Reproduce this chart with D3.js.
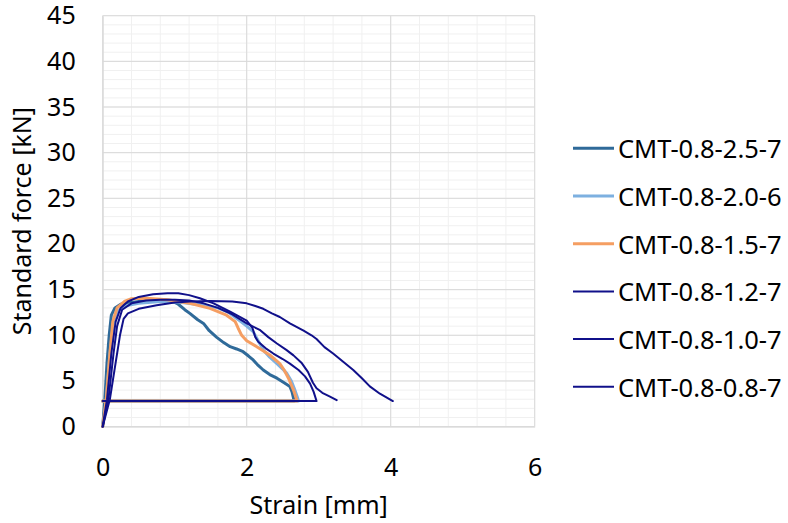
<!DOCTYPE html>
<html>
<head>
<meta charset="utf-8">
<script src="https://cdn.jsdelivr.net/npm/d3@7"></script>
<style>
  html, body { margin: 0; padding: 0; background: #fff; }
  svg text { font-family: "Noto Sans", "Open Sans", sans-serif; fill: #000; }
</style>
</head>
<body>
<svg id="chart" width="788" height="523"></svg>
<script>
// ---- data ----
const seriesNames = ["CMT-0.8-2.5-7", "CMT-0.8-2.0-6", "CMT-0.8-1.5-7", "CMT-0.8-1.2-7", "CMT-0.8-1.0-7", "CMT-0.8-0.8-7"];
const seriesColors = ["#2f6a99", "#7db0e0", "#f59e62", "#10108a", "#10108a", "#10108a"];
const seriesWidths = [3, 3, 3, 2, 2, 2];

const strain_2_5 = [0,0.03,0.06,0.09,0.12,0.17,0.25,0.4,0.6,0.8,0.95,1.05,1.14,1.21,1.32,1.40,1.48,1.58,1.68,1.77,1.86,1.95,2.03,2.09,2.16,2.23,2.32,2.42,2.52,2.60,2.63,2.66,0];
const force_2_5  = [0,3,7,10,12.2,13.0,13.4,13.6,13.8,13.9,13.8,13.4,12.8,12.4,11.7,11.3,10.5,9.8,9.2,8.75,8.5,8.2,7.7,7.3,6.7,6.2,5.7,5.3,4.8,4.4,3.8,2.8,2.8];

const strain_2_0 = [0,0.05,0.1,0.15,0.2,0.3,0.5,0.8,1.1,1.4,1.6,1.75,1.9,2.0,2.09,2.16,2.23,2.32,2.42,2.5,2.56,2.62,2.66,2.70,2.72,0];
const force_2_0  = [0,3,8,11.5,12.6,13.2,13.5,13.7,13.6,13.3,13.0,12.5,11.6,11.0,10.4,9.4,8.4,7.6,6.9,6.3,5.8,5.0,4.2,3.3,2.8,2.8];

const strain_1_5 = [0,0.05,0.1,0.14,0.2,0.3,0.4,0.6,0.9,1.21,1.49,1.72,1.84,1.88,1.93,2.0,2.14,2.32,2.46,2.52,2.58,2.65,2.70,0];
const force_1_5  = [0,3,8,11.5,13.0,13.7,14.0,14.05,13.9,13.5,12.95,12.2,11.5,10.8,10.0,9.4,8.75,7.84,6.9,6.2,5.3,4.0,2.8,2.8];

const strain_1_2 = [0,0.06,0.12,0.18,0.25,0.35,0.5,0.7,0.9,1.05,1.2,1.35,1.54,1.77,2.0,2.08,2.12,2.16,2.26,2.37,2.5,2.6,2.72,2.81,2.88,2.93,2.97,0];
const force_1_2  = [0,3,8,11.5,13.0,13.7,14.2,14.5,14.6,14.6,14.4,14.05,13.5,12.6,11.6,10.8,9.8,9.3,8.6,8.0,7.4,6.9,6.2,5.5,4.7,3.8,2.8,2.8];

const strain_1_0 = [0,0.08,0.15,0.2,0.27,0.4,0.6,0.8,1.0,1.2,1.4,1.6,1.8,2.0,2.18,2.3,2.42,2.55,2.65,2.76,2.85,2.92,2.97,3.05,3.15,3.25];
const force_1_0  = [0,3,8,11,12.8,13.5,13.8,13.9,13.9,13.8,13.5,13.0,12.3,11.3,10.6,9.8,9.1,8.4,7.8,7.0,6.0,4.8,4.2,3.7,3.3,2.9];

const strain_0_8 = [0,0.1,0.18,0.24,0.29,0.35,0.5,0.75,1.0,1.21,1.5,1.8,2.0,2.12,2.23,2.35,2.46,2.6,2.79,2.9,2.97,3.08,3.2,3.34,3.48,3.6,3.71,3.85,4.03];
const force_0_8  = [0,3,7,10,11.8,12.4,12.9,13.3,13.6,13.7,13.75,13.7,13.5,13.2,12.9,12.4,12.0,11.3,10.5,10.0,9.6,8.7,8.0,7.1,6.2,5.3,4.4,3.6,2.8];

const strains = [strain_2_5, strain_2_0, strain_1_5, strain_1_2, strain_1_0, strain_0_8];
const forces  = [force_2_5, force_2_0, force_1_5, force_1_2, force_1_0, force_0_8];

const xTicks = [0, 2, 4, 6];
const yTicks = [0, 5, 10, 15, 20, 25, 30, 35, 40, 45];
const xMinor = d3.range(0, 6.0001, 0.4);
const yMinor = d3.range(0, 45.0001, 1);
const xTitle = "Strain [mm]";
const yTitle = "Standard force [kN]";

// ---- chart ----
const svg = d3.select("#chart");
const x = d3.scaleLinear().domain([0, 6]).range([102.7, 534.7]);
const y = d3.scaleLinear().domain([0, 45]).range([426.6, 15.7]);

const grid = svg.append("g");
grid.selectAll(".vminor").data(xMinor).join("line")
  .attr("x1", d => x(d)).attr("x2", d => x(d))
  .attr("y1", y(0)).attr("y2", y(45))
  .attr("stroke", "#f0f0f0").attr("stroke-width", 1);
grid.selectAll(".hminor").data(yMinor).join("line")
  .attr("x1", x(0)).attr("x2", x(6))
  .attr("y1", d => y(d)).attr("y2", d => y(d))
  .attr("stroke", "#f0f0f0").attr("stroke-width", 1);
grid.selectAll(".vmajor").data(xTicks).join("line")
  .attr("x1", d => x(d)).attr("x2", d => x(d))
  .attr("y1", y(0)).attr("y2", y(45))
  .attr("stroke", "#d9d9d9").attr("stroke-width", 1);
grid.selectAll(".hmajor").data(yTicks).join("line")
  .attr("x1", x(0)).attr("x2", x(6))
  .attr("y1", d => y(d)).attr("y2", d => y(d))
  .attr("stroke", "#d9d9d9").attr("stroke-width", 1);

// axes
const xAxis = svg.append("g").attr("transform", `translate(0,${y(0)})`)
  .call(d3.axisBottom(x).tickValues(xTicks).tickSize(0).tickPadding(32).tickFormat(d3.format("d")));
xAxis.select(".domain").attr("stroke", "#d9d9d9");
xAxis.selectAll("text").attr("font-size", 25).attr("font-family", "Noto Sans");

const yAxis = svg.append("g").attr("transform", `translate(${x(0)},0)`)
  .call(d3.axisLeft(y).tickValues(yTicks).tickSize(0).tickPadding(27).tickFormat(d3.format("d")));
yAxis.select(".domain").attr("stroke", "#d9d9d9");
yAxis.selectAll("text").attr("font-size", 25).attr("font-family", "Noto Sans");

// titles
svg.append("text").attr("x", (x(0) + x(6)) / 2).attr("y", 514)
  .attr("text-anchor", "middle").attr("font-size", 25).text(xTitle);
svg.append("text")
  .attr("transform", `translate(31,${(y(0) + y(45)) / 2}) rotate(-90)`)
  .attr("text-anchor", "middle").attr("font-size", 25).text(yTitle);

// series
const line = d3.line().x(d => x(d[0])).y(d => y(d[1]));
const plot = svg.append("g");
seriesNames.forEach((name, i) => {
  const pts = strains[i].map((s, j) => [s, forces[i][j]]);
  plot.append("path").datum(pts)
    .attr("d", line)
    .attr("fill", "none")
    .attr("stroke", seriesColors[i])
    .attr("stroke-width", seriesWidths[i])
    .attr("stroke-linejoin", "round")
    .attr("stroke-linecap", "round");
});

// legend
const legend = svg.append("g");
seriesNames.forEach((name, i) => {
  const cy = 148.3 + i * 47.7;
  legend.append("line")
    .attr("x1", 573).attr("x2", 614).attr("y1", cy).attr("y2", cy)
    .attr("stroke", seriesColors[i]).attr("stroke-width", seriesWidths[i]);
  legend.append("text").attr("x", 618).attr("y", cy)
    .attr("dominant-baseline", "central").attr("font-size", 25.5).text(name);
});
</script>
</body>
</html>
